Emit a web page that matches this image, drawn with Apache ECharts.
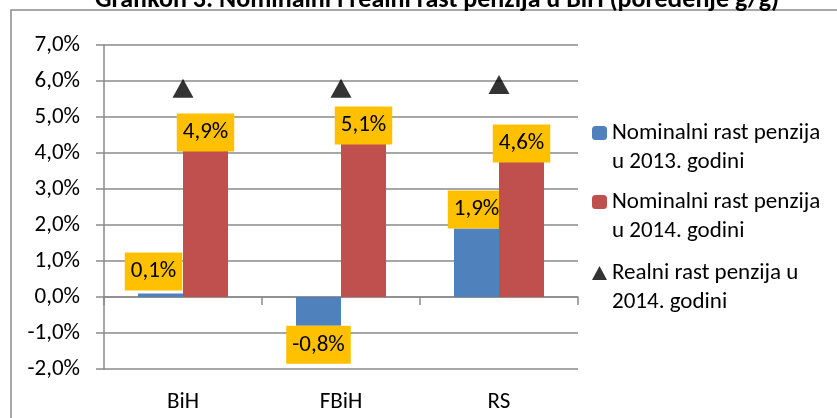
<!DOCTYPE html>
<html>
<head>
<meta charset="utf-8">
<script src="https://cdn.jsdelivr.net/npm/echarts@6/dist/echarts.min.js"></script>
<style>
    html, body { margin: 0; padding: 0; background: #fff; }
    #chart { width: 837px; height: 418px; }
</style>
</head>
<body>
<div id="chart"></div>
<script>
    var categories = ['BiH', 'FBiH', 'RS'];
    var nominal2013 = [0.1, -0.8, 1.9];
    var nominal2014 = [4.9, 5.1, 4.6];
    var real2014 = [5.8, 5.8, 5.9];
    var seriesNames = [
        'Nominalni rast penzija\nu 2013. godini',
        'Nominalni rast penzija\nu 2014. godini',
        'Realni rast penzija u\n2014. godini'
    ];
    var titleText = 'Grafikon 3: Nominalni i realni rast penzija u BiH (poređenje g/g)';

    var font = 'Carlito, Lato, sans-serif';
    var fmt = function (v) { return v.toFixed(1).replace('.', ',') + '%'; };

    // položaji oznaka za plave stupce (ručno pomjerene kao u originalu)
    var blueLabelPos = [
        { position: 'top', distance: 3, offset: [-7, 0] },
        { position: 'bottom', distance: 0, offset: [0, 0] },
        { position: 'top', distance: 0, offset: [0, 0] }
    ];

    var labelBox = {
        show: true,
        fontFamily: font,
        fontSize: 23,
        lineHeight: 26,
        color: '#000',
        backgroundColor: '#FFC000',
        padding: [6, 6],
        formatter: function (p) { return fmt(p.value); }
    };

    var chart = echarts.init(document.getElementById('chart'));
    var option = {
        backgroundColor: '#fff',
        animation: false,
        title: {
            text: titleText,
            left: 432,
            textAlign: 'center',
            top: -18,
            textStyle: { fontFamily: font, fontSize: 26, fontWeight: 'bold', color: '#000' }
        },
        graphic: [{
            type: 'rect',
            shape: { x: 11, y: 10, width: 840, height: 420 },
            style: { fill: 'none', stroke: '#8a8a8a', lineWidth: 1.5 },
            silent: true
        }],
        legend: [0, 1, 2].map(function (i) {
            return {
                data: [seriesNames[i]],
                left: 592,
                top: [89.5, 158.5, 229.5][i],
                padding: 0,
                itemWidth: 15,
                itemHeight: 14,
                selectedMode: false,
                // prazan prvi red da ikona stoji uz prvi red teksta
                formatter: function (name) { return '\n' + name; },
                textStyle: { fontFamily: font, fontSize: 23, lineHeight: 29, color: '#000' }
            };
        }),
        grid: { left: 104, right: 259, top: 45, bottom: 49, containLabel: false },
        xAxis: [{
            type: 'category',
            data: categories,
            axisLine: { onZero: true, lineStyle: { color: '#8a8a8a', width: 1.5 } },
            axisTick: { show: true, length: 8, lineStyle: { color: '#8a8a8a', width: 1.5 } },
            axisLabel: { show: false }
        }, {
            type: 'category',
            data: categories,
            position: 'bottom',
            axisLine: { show: false, onZero: false },
            axisTick: { show: false },
            axisLabel: { margin: 22, fontFamily: font, fontSize: 23, color: '#000' }
        }],
        yAxis: {
            type: 'value',
            min: -2,
            max: 7,
            interval: 1,
            axisLine: { show: true, lineStyle: { color: '#8a8a8a', width: 1.5 } },
            axisTick: { show: true, length: 8, lineStyle: { color: '#8a8a8a', width: 1.5 } },
            axisLabel: { margin: 24, fontFamily: font, fontSize: 23, color: '#000', formatter: fmt },
            splitLine: { lineStyle: { color: '#8a8a8a', width: 1.5 } }
        },
        series: [{
            name: seriesNames[0],
            type: 'bar',
            z: 2,
            xAxisIndex: 0,
            barWidth: 45,
            barGap: '0%',
            itemStyle: { color: '#4F81BD' },
            label: labelBox,
            data: nominal2013.map(function (v, i) {
                return { value: v, label: blueLabelPos[i] };
            })
        }, {
            name: seriesNames[1],
            type: 'bar',
            z: 3,
            xAxisIndex: 0,
            barWidth: 45,
            barGap: '0%',
            itemStyle: { color: '#C0504D' },
            label: Object.assign({}, labelBox, { position: 'top', distance: 0, offset: [0, 31] }),
            data: nominal2014
        }, {
            name: seriesNames[2],
            type: 'scatter',
            z: 4,
            xAxisIndex: 0,
            symbol: 'triangle',
            symbolSize: [21, 19],
            itemStyle: { color: '#000' },
            data: real2014
        }]
    };
    chart.setOption(option);
</script>
</body>
</html>
